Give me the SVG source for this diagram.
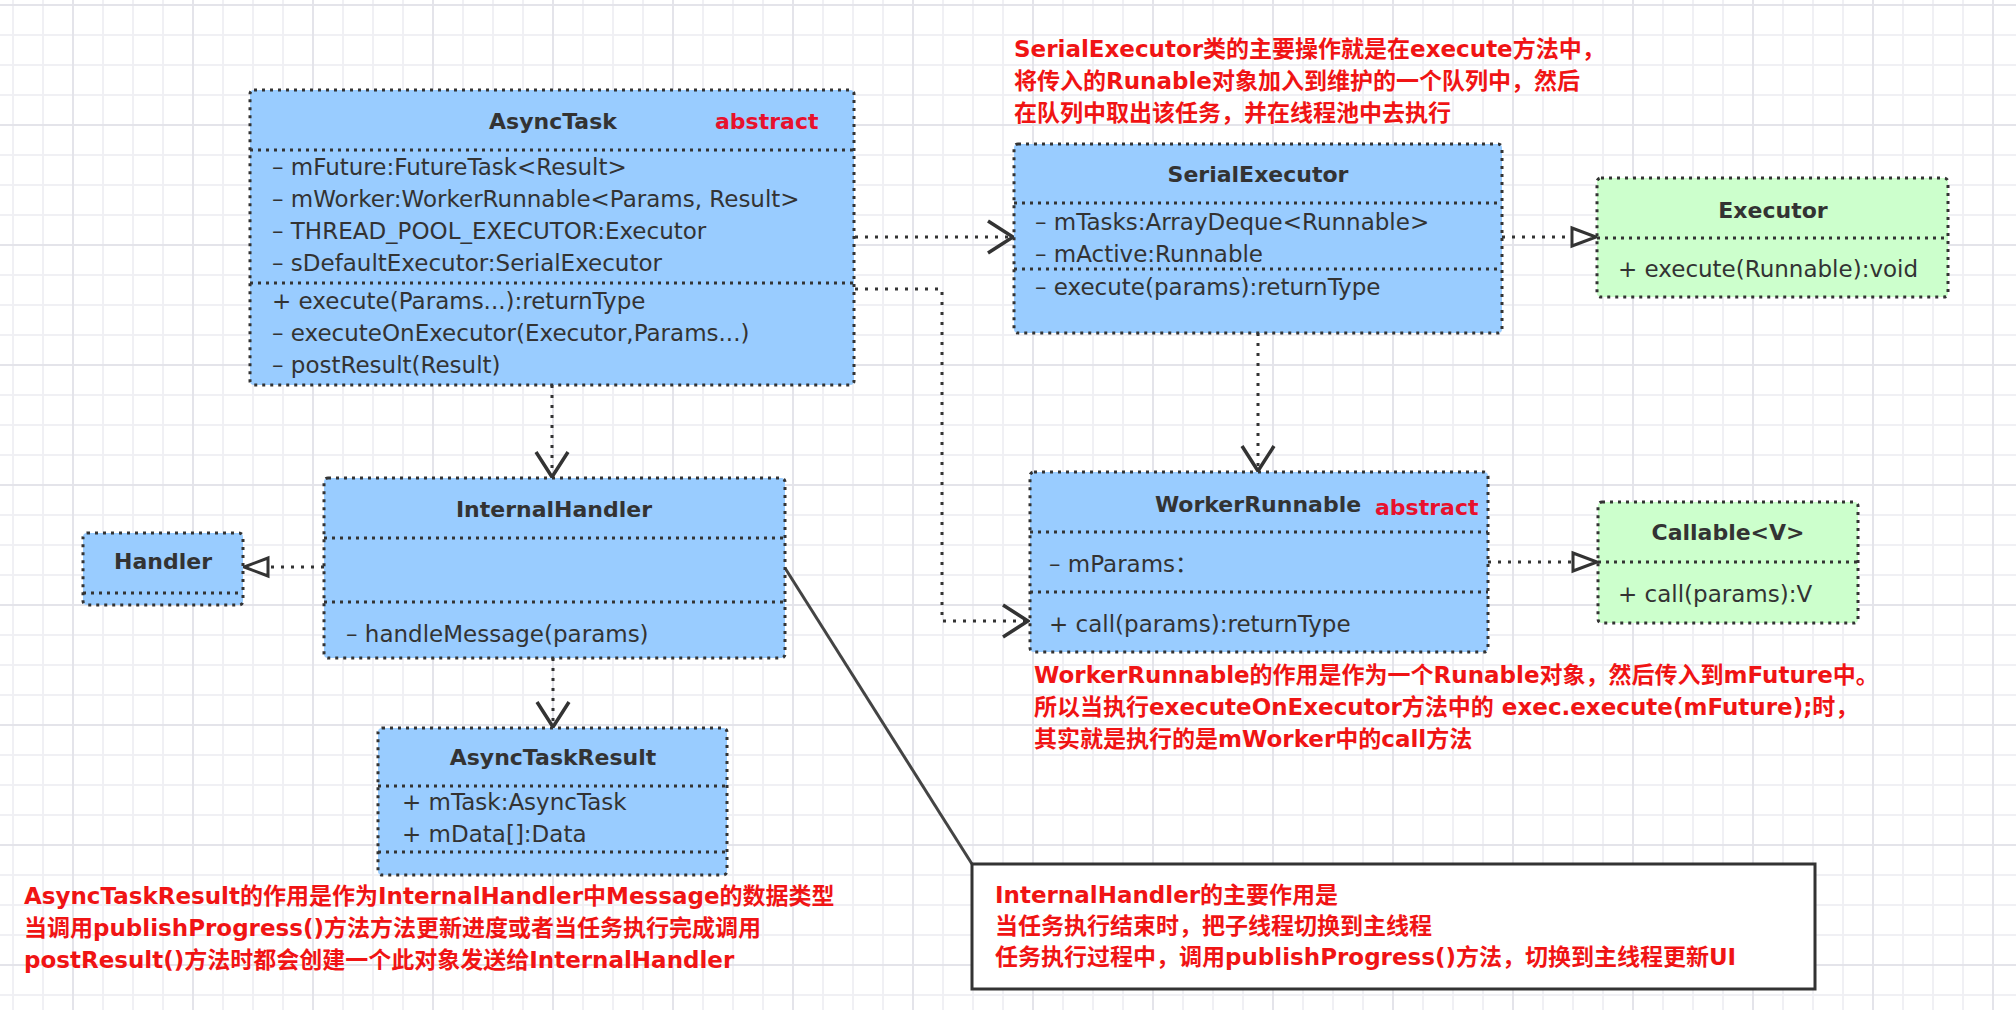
<svg xmlns="http://www.w3.org/2000/svg" width="2016" height="1010" viewBox="0 0 2016 1010">
<style>
.box{stroke:#333;stroke-width:3;stroke-dasharray:3 5}
.blue{fill:#99ccff}
.green{fill:#ccffcc}
.dv{stroke:#333;stroke-width:3;stroke-dasharray:3 5;fill:none}
.conn{fill:none;stroke:#333;stroke-width:3;stroke-dasharray:3 7}
.t{font-family:'DejaVu Sans','Noto Sans CJK SC',sans-serif;font-size:23px;fill:#333}
.h{font-family:'DejaVu Sans','Noto Sans CJK SC',sans-serif;font-weight:bold;font-size:22px;fill:#333;text-anchor:middle}
.abs{font-family:'DejaVu Sans',sans-serif;font-weight:bold;font-size:22px;fill:#e8112d}
.note{font-family:'DejaVu Sans','Noto Sans CJK SC',sans-serif;font-size:23px;font-weight:bold;fill:#f01414}
</style>
<defs>
<pattern id="gMinor" patternUnits="userSpaceOnUse" x="12" y="4" width="30" height="30"><rect width="2" height="30" fill="#f0f0f4"/><rect width="30" height="2" fill="#f0f0f4"/></pattern>
<pattern id="gMajor" patternUnits="userSpaceOnUse" x="72" y="4" width="120" height="120"><rect width="2" height="120" fill="#e4e4ea"/><rect width="120" height="2" fill="#e4e4ea"/></pattern>
<marker id="open" markerUnits="userSpaceOnUse" viewBox="0 0 30 36" refX="28" refY="18" markerWidth="30" markerHeight="36" orient="auto"><path d="M3,2 L28,18 L3,34" fill="none" stroke="#333" stroke-width="3.5"/></marker>
<marker id="tri" markerUnits="userSpaceOnUse" viewBox="0 0 30 24" refX="27" refY="12" markerWidth="30" markerHeight="24" orient="auto"><path d="M3,3 L27,12 L3,21 Z" fill="#fff" stroke="#333" stroke-width="3"/></marker>
</defs>
<rect width="2016" height="1010" fill="#fff"/>
<rect width="2016" height="1010" fill="url(#gMinor)"/>
<rect width="2016" height="1010" fill="url(#gMajor)"/>

<g id="connectors">
<path class="conn" d="M855,237 H1013" marker-end="url(#open)"/>
<path class="conn" d="M855,289 H942 V621 H1028" marker-end="url(#open)"/>
<path class="conn" d="M1502,237 H1596" marker-end="url(#tri)"/>
<path class="conn" d="M1258,333 V471" marker-end="url(#open)"/>
<path class="conn" d="M552,385 V477" marker-end="url(#open)"/>
<path class="conn" d="M324,567 H244" marker-end="url(#tri)"/>
<path class="conn" d="M553,658 V727" marker-end="url(#open)"/>
<path class="conn" d="M1488,562 H1597" marker-end="url(#tri)"/>
<path d="M785,568 L972,864" stroke="#444" stroke-width="3" fill="none"/>
</g>

<g id="AsyncTask">
<rect class="box blue" x="250" y="90" width="604" height="295" rx="4"/>
<path class="dv" d="M250,150 H854 M250,283 H854"/>
<text class="h" x="553" y="129">AsyncTask</text>
<text class="abs" x="715" y="129">abstract</text>
<text class="t" x="272" y="175">– mFuture:FutureTask&lt;Result&gt;</text>
<text class="t" x="272" y="207">– mWorker:WorkerRunnable&lt;Params, Result&gt;</text>
<text class="t" x="272" y="239">– THREAD_POOL_EXECUTOR:Executor</text>
<text class="t" x="272" y="271">– sDefaultExecutor:SerialExecutor</text>
<text class="t" x="272" y="309">+ execute(Params...):returnType</text>
<text class="t" x="272" y="341">– executeOnExecutor(Executor,Params...)</text>
<text class="t" x="272" y="373">– postResult(Result)</text>
</g>

<g id="SerialExecutor">
<rect class="box blue" x="1014" y="144" width="488" height="189" rx="4"/>
<path class="dv" d="M1014,203 H1502 M1014,269 H1502"/>
<text class="h" x="1258" y="182">SerialExecutor</text>
<text class="t" x="1035" y="230">– mTasks:ArrayDeque&lt;Runnable&gt;</text>
<text class="t" x="1035" y="262">– mActive:Runnable</text>
<text class="t" x="1035" y="295">– execute(params):returnType</text>
</g>

<g id="Executor">
<rect class="box green" x="1597" y="178" width="351" height="119" rx="4"/>
<path class="dv" d="M1597,238 H1948"/>
<text class="h" x="1773" y="218">Executor</text>
<text class="t" x="1618" y="277">+ execute(Runnable):void</text>
</g>

<g id="InternalHandler">
<rect class="box blue" x="324" y="478" width="461" height="180" rx="4"/>
<path class="dv" d="M324,538 H785 M324,602 H785"/>
<text class="h" x="554" y="517">InternalHandler</text>
<text class="t" x="346" y="642">– handleMessage(params)</text>
</g>

<g id="Handler">
<rect class="box blue" x="83" y="533" width="160" height="72" rx="4"/>
<path class="dv" d="M83,593 H243"/>
<text class="h" x="163" y="569">Handler</text>
</g>

<g id="WorkerRunnable">
<rect class="box blue" x="1030" y="472" width="458" height="180" rx="4"/>
<path class="dv" d="M1030,532 H1488 M1030,592 H1488"/>
<text class="h" x="1258" y="512">WorkerRunnable</text>
<text class="abs" x="1375" y="515">abstract</text>
<text class="t" x="1049" y="572">– mParams：</text>
<text class="t" x="1049" y="632">+ call(params):returnType</text>
</g>

<g id="Callable">
<rect class="box green" x="1598" y="502" width="260" height="121" rx="4"/>
<path class="dv" d="M1598,562 H1858"/>
<text class="h" x="1728" y="540">Callable&lt;V&gt;</text>
<text class="t" x="1618" y="602">+ call(params):V</text>
</g>

<g id="AsyncTaskResult">
<rect class="box blue" x="378" y="728" width="349" height="147" rx="4"/>
<path class="dv" d="M378,786 H727 M378,852 H727"/>
<text class="h" x="553" y="765">AsyncTaskResult</text>
<text class="t" x="402" y="810">+ mTask:AsyncTask</text>
<text class="t" x="402" y="842">+ mData[]:Data</text>
</g>

<g id="InternalHandlerNote">
<rect x="972" y="864" width="843" height="125" fill="#fff" stroke="#333" stroke-width="3"/>
<text class="note" x="995" y="903">InternalHandler的主要作用是</text>
<text class="note" x="995" y="934">当任务执行结束时，把子线程切换到主线程</text>
<text class="note" x="995" y="965">任务执行过程中，调用publishProgress()方法，切换到主线程更新UI</text>
</g>

<g id="annotations">
<text class="note" x="1014" y="57">SerialExecutor类的主要操作就是在execute方法中，</text>
<text class="note" x="1014" y="89">将传入的Runable对象加入到维护的一个队列中，然后</text>
<text class="note" x="1014" y="121">在队列中取出该任务，并在线程池中去执行</text>
<text class="note" x="1034" y="683">WorkerRunnable的作用是作为一个Runable对象，然后传入到mFuture中。</text>
<text class="note" x="1034" y="715">所以当执行executeOnExecutor方法中的 exec.execute(mFuture);时，</text>
<text class="note" x="1034" y="747">其实就是执行的是mWorker中的call方法</text>
<text class="note" x="24" y="904">AsyncTaskResult的作用是作为InternalHandler中Message的数据类型</text>
<text class="note" x="24" y="936">当调用publishProgress()方法方法更新进度或者当任务执行完成调用</text>
<text class="note" x="24" y="968">postResult()方法时都会创建一个此对象发送给InternalHandler</text>
</g>
</svg>
